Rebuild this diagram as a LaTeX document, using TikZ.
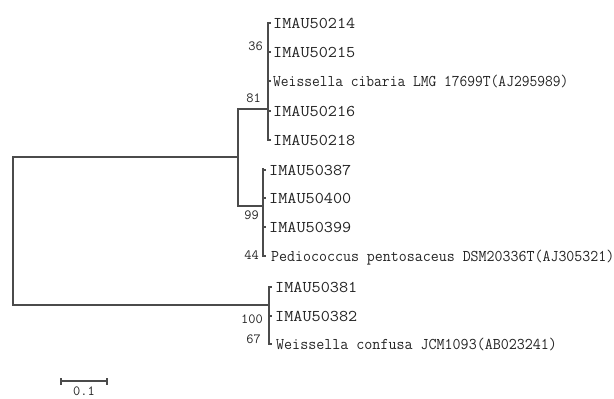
\documentclass[tikz,border=0pt]{standalone}
\usepackage{fontspec}
\definecolor{treegray}{RGB}{75,75,75}
\definecolor{txtgray}{RGB}{35,35,35}
\newcommand{\labsize}{\ttfamily\fontsize{16.4}{17}\selectfont}
\newcommand{\bootstyle}{\ttfamily\fontsize{14}{14}\selectfont}
\newcommand{\wideimau}[1]{\scalebox{1.08}[1]{#1}}
\newcommand{\narrowlab}[2]{\scalebox{#1}[1]{#2}}
\begin{document}
\begin{tikzpicture}[x=1pt,y=-1pt,
  branch/.style={draw=treegray,line width=2.6pt,line cap=rect},
  clusterline/.style={draw=treegray,line width=2.8pt},
  leaftick/.style={draw=treegray,line width=1.4pt},
  imau/.style={anchor=base west,inner sep=0pt,text=txtgray,font=\labsize},
  longlab/.style={anchor=base west,inner sep=0pt,text=txtgray,font=\labsize},
  boot/.style={anchor=base east,inner sep=0pt,text=txtgray,font=\bootstyle},
  scalelab/.style={anchor=base,inner sep=0pt,text=txtgray,font=\bootstyle}]
\useasboundingbox (0,0) rectangle (614,399);
% internal nodes
\coordinate (r1) at (13,157);
\coordinate (r2) at (13,305);
\coordinate (a0) at (238,157);
\coordinate (a1) at (238,109);
\coordinate (a2) at (238,206);
\coordinate (c1) at (268,109);
\coordinate (c2) at (263,206);
\coordinate (c3) at (269,305);
% cluster extents
\coordinate (c1t) at (268,22);
\coordinate (c1b) at (268,141);
\coordinate (c2t) at (263,168);
\coordinate (c2b) at (263,257);
\coordinate (c3t) at (269,286);
\coordinate (c3b) at (269,345);
% branches
\draw[branch] (c3) -- (r2) -- (r1) -- (a0);
\draw[branch] (c1) -- (a1) -- (a2) -- (c2);
\draw[clusterline] (c1t) -- (c1b);
\draw[clusterline] (c2t) -- (c2b);
\draw[clusterline] (c3t) -- (c3b);
% leaves cluster 1
\foreach \n/\y/\t in {l1/23/IMAU50214, l2/52/IMAU50215, l4/111/IMAU50216, l5/140/IMAU50218}{
  \coordinate (\n t) at (268,\y);
  \node[imau] (\n) at (273,\y+5.5) {\wideimau{\t}};
  \draw[leaftick] (\n t) -- ++(3,0);
}
\coordinate (l3t) at (268,81);
\node[longlab] (l3) at (273,86.5) {\narrowlab{0.92}{Weissella cibaria LMG 17699T(AJ295989)}};
\draw[leaftick] (l3t) -- ++(3,0);
% leaves cluster 2
\foreach \n/\y/\t in {l6/170/IMAU50387, l7/198/IMAU50400, l8/227/IMAU50399}{
  \coordinate (\n t) at (263,\y);
  \node[imau] (\n) at (269,\y+5.5) {\wideimau{\t}};
  \draw[leaftick] (\n t) -- ++(3,0);
}
\coordinate (l9t) at (263,256);
\node[longlab] (l9) at (271,261.5) {\narrowlab{0.945}{Pediococcus pentosaceus DSM20336T(AJ305321)}};
\draw[leaftick] (l9t) -- ++(3,0);
% leaves cluster 3
\foreach \n/\y/\t in {l10/287/IMAU50381, l11/316/IMAU50382}{
  \coordinate (\n t) at (269,\y);
  \node[imau] (\n) at (275,\y+5.5) {\wideimau{\t}};
  \draw[leaftick] (\n t) -- ++(3,0);
}
\coordinate (l12t) at (269,344);
\node[longlab] (l12) at (276,349.5) {\narrowlab{0.95}{Weissella confusa JCM1093(AB023241)}};
\draw[leaftick] (l12t) -- ++(3,0);
% bootstrap values
\node[boot] (b36) at (263,50) {36};
\node[boot] (b81) at (261,102) {81};
\node[boot] (b99) at (259,219) {99};
\node[boot] (b44) at (259,259) {44};
\node[boot] (b100) at (263,323) {100};
\node[boot] (b67) at (261,343) {67};
% scale bar
\coordinate (s1) at (61,381);
\coordinate (s2) at (107,381);
\draw[branch,line cap=butt] (s1) -- (s2);
\draw[leaftick,line width=1.8pt] ([yshift=-3.5]s1) -- ([yshift=3.5]s1);
\draw[leaftick,line width=1.8pt] ([yshift=-3.5]s2) -- ([yshift=3.5]s2);
\node[scalelab] (sl) at (84,395) {0.1};
\end{tikzpicture}
\end{document}
